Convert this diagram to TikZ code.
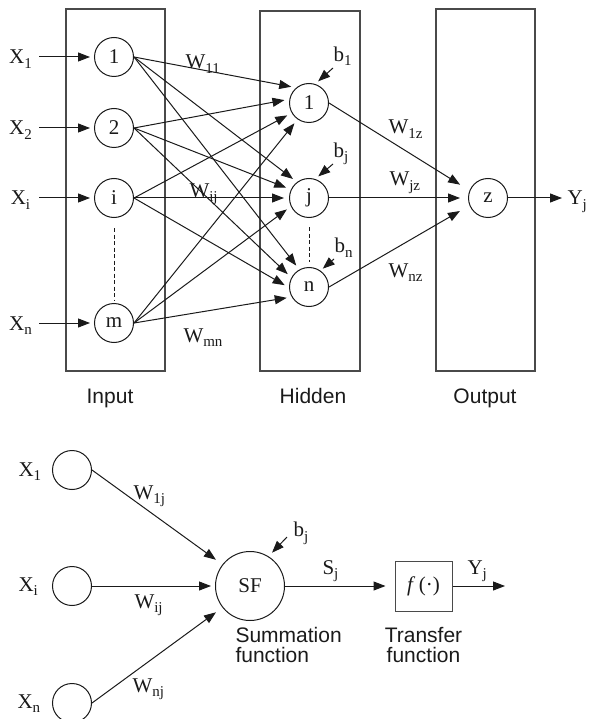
\documentclass[tikz,border=0pt]{standalone}
\usepackage{fontspec}
\setmainfont{Liberation Serif}
\newfontfamily\labfont{Liberation Sans}
\usetikzlibrary{arrows.meta}
\definecolor{ink}{HTML}{1A1A1A}
\definecolor{frame}{HTML}{4A4A4A}
\newcommand{\low}[1]{\raisebox{-4.5pt}{\fontsize{15}{15}\selectfont #1}}
\begin{document}
\begin{tikzpicture}[x=1pt,y=-1pt,line width=1pt,
  every node/.style={font=\fontsize{21}{23}\selectfont,text=ink},
  neuron/.style={draw=ink,circle,minimum size=39pt,inner sep=0pt},
  layer/.style={draw=frame,line width=1.3pt},
  arr/.style={draw=ink,-{Triangle[length=12pt,width=9pt]},shorten >=5pt},
  xin/.style={anchor=west,inner sep=0pt,minimum width=26pt,text height=17pt,text depth=3pt},
  wlab/.style={anchor=base west,inner sep=0pt},
  blab/.style={anchor=south west,inner sep=0pt,text depth=6pt},
  dots/.style={draw=ink,line width=.8pt,dash pattern=on 4pt off 2.5pt},
  caption/.style={font=\labfont\fontsize{21}{20}\selectfont}]
\useasboundingbox (0,0) rectangle (589,719);
\draw[layer] (66,9) rectangle (165,371);
\draw[layer] (260,11) rectangle (360,371);
\draw[layer] (436,9) rectangle (535,371);
\node[caption,anchor=base] (capin) at (110,403) {Input};
\node[caption,anchor=base] (caphid) at (313,403) {Hidden};
\node[caption,anchor=base] (capout) at (485,403) {Output};
\foreach \n/\s/\y in {1/1/57,2/2/128,i/i/198,m/n/323}{
  \node[neuron] (in\n) at (114,\y) {\n};
  \node[xin] (x\n) at (7,\y) {X\low{\s}};
  \draw[arr,shorten <=5pt,shorten >=4pt] (x\n) -- (in\n);
}
\draw[dots,shorten <=10pt,shorten >=3pt] (ini) -- (inm);
\foreach \n/\y in {1/103,j/198,n/287}{\node[neuron] (h\n) at (309,\y) {\n};}
\draw[dots,shorten <=9pt,shorten >=5pt] (hj) -- (hn);
\foreach \src/\dst/\ang in {1/1/130,2/1/169,i/1/210,m/1/235,1/j/127,2/j/155,i/j/180,m/j/205,1/n/119,2/n/152,i/n/182,m/n/210}{
  \draw[arr] (in\src.east) -- (h\dst.\ang);
}
\node[neuron] (z) at (488,198) {z};
\draw[arr,shorten >=11pt] (h1.east) -- (z.158);
\draw[arr,shorten >=8pt] (hj.east) -- (z.west);
\draw[arr,shorten >=11pt] (hn.east) -- (z.202);
\node[anchor=west,inner sep=0pt,text height=17pt,text depth=3pt] (yj) at (567,198) {Y\low{j}};
\draw[arr,shorten >=5pt] (z) -- (yj);
\node[blab] (b1) at (333,68) {b\low{1}};
\node[blab] (bj) at (333,164) {b\low{j}};
\node[blab] (bn) at (334,259) {b\low{n}};
\draw[arr,shorten >=4pt] (b1.south west) -- (h1.72);
\draw[arr,shorten >=4pt] (bj.south west) -- (hj.72);
\draw[arr,shorten >=3pt] (bn.south west) -- (hn.55);
\node[wlab] (w11) at (185,69) {W\low{11}};
\node[wlab] (wij) at (189,197) {W\low{ij}};
\node[wlab] (wmn) at (183,342) {W\low{mn}};
\node[wlab] (w1z) at (388,134) {W\low{1z}};
\node[wlab] (wjz) at (389,186) {W\low{jz}};
\node[wlab] (wnz) at (388,277) {W\low{nz}};
\foreach \n/\y in {1/470,i/586,n/703}{\node[neuron] (s\n) at (72,\y) {};}
\node[wlab] (sx1) at (18,476) {X\low{1}};
\node[wlab] (sxi) at (18,591) {X\low{i}};
\node[wlab] (sxn) at (17,708) {X\low{n}};
\node[neuron,minimum size=69pt] (sf) at (250,586) {SF};
\node[draw=frame,line width=1pt,minimum width=57pt,minimum height=50pt,inner sep=0pt] (ft) at (423.5,586) {\textit{f}\,(·)};
\coordinate (yend) at (505,586);
\draw[arr,shorten >=8pt] (s1.east) -- (sf.142);
\draw[arr,shorten >=4pt] (si.east) -- (sf.west);
\draw[arr,shorten >=8pt] (sn.east) -- (sf.218);
\draw[arr,shorten >=9pt] (sf.east) -- (ft.west);
\draw[arr,shorten >=0pt] (ft.east) -- (yend);
\node[blab,inner xsep=6pt,text depth=0pt] (bs) at (287,537) {b\low{j}};
\draw[arr] (bs.south west) -- (sf.58);
\node[wlab] (w1j) at (133,499) {W\low{1j}};
\node[wlab] (wsi) at (134,608) {W\low{ij}};
\node[wlab] (wnj) at (132,692) {W\low{nj}};
\node[wlab] (sj) at (322,574) {S\low{j}};
\node[wlab] (ys) at (467,574) {Y\low{j}};
\node[caption,anchor=north west,align=left,inner sep=0pt] (capsum) at (235,627) {Summation\\function};
\node[caption,anchor=north,align=center,inner sep=0pt] (captr) at (423.5,627) {Transfer\\function};
\end{tikzpicture}
\end{document}
